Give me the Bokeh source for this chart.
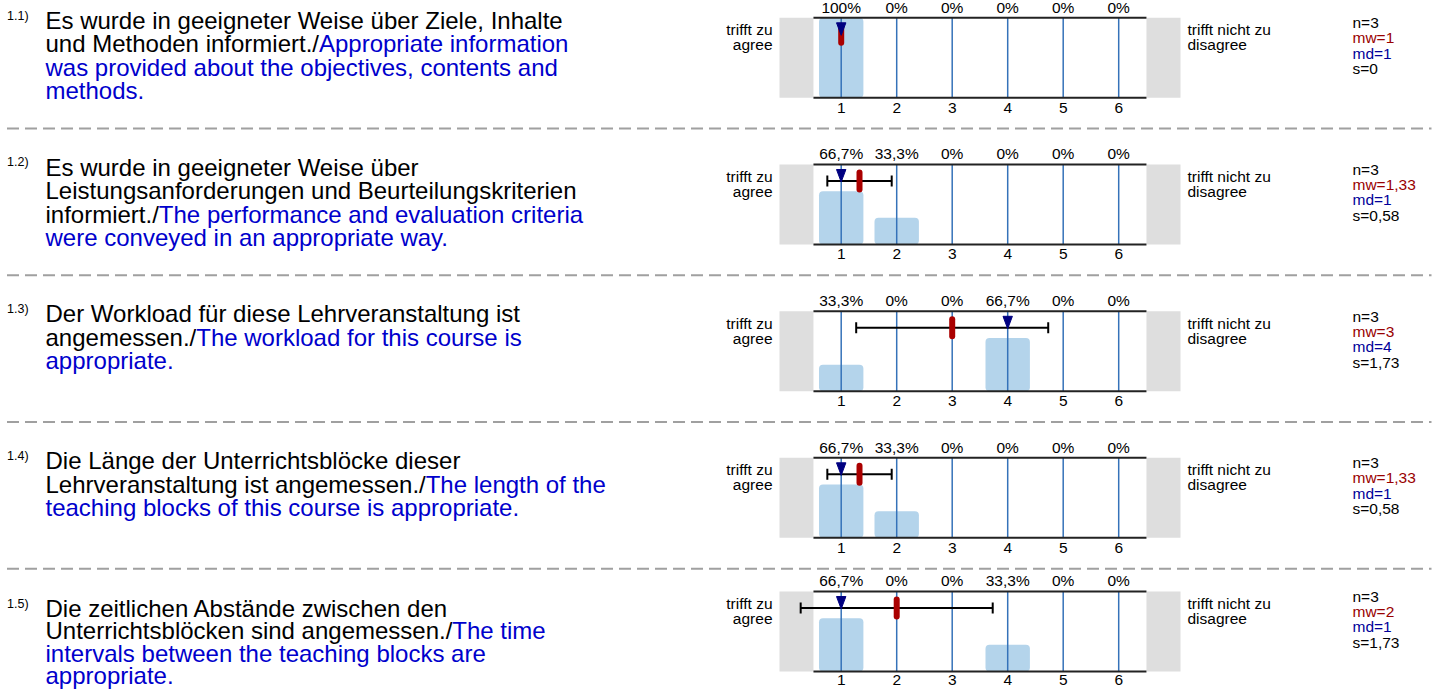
from bokeh.plotting import figure
from bokeh.layouts import column
from bokeh.models import Range1d
from bokeh.embed import file_html
from bokeh.resources import INLINE
from bokeh.core.properties import value

# ---------------- data ----------------
categories = [1, 2, 3, 4, 5, 6]
item_ids = ["1.1)", "1.2)", "1.3)", "1.4)", "1.5)"]

q_de = [
    ["Es wurde in geeigneter Weise über Ziele, Inhalte", "und Methoden informiert./"],
    ["Es wurde in geeigneter Weise über", "Leistungsanforderungen und Beurteilungskriterien", "informiert./"],
    ["Der Workload für diese Lehrveranstaltung ist", "angemessen./"],
    ["Die Länge der Unterrichtsblöcke dieser", "Lehrveranstaltung ist angemessen./"],
    ["Die zeitlichen Abstände zwischen den", "Unterrichtsblöcken sind angemessen./"],
]
q_en = [
    ["Appropriate information", "was provided about the objectives, contents and", "methods."],
    ["The performance and evaluation criteria", "were conveyed in an appropriate way."],
    ["The workload for this course is", "appropriate."],
    ["The length of the", "teaching blocks of this course is appropriate."],
    ["The time", "intervals between the teaching blocks are", "appropriate."],
]

pct_q1 = [100, 0, 0, 0, 0, 0]
pct_q2 = [66.7, 33.3, 0, 0, 0, 0]
pct_q3 = [33.3, 0, 0, 66.7, 0, 0]
pct_q4 = [66.7, 33.3, 0, 0, 0, 0]
pct_q5 = [66.7, 0, 0, 33.3, 0, 0]
percentages = [pct_q1, pct_q2, pct_q3, pct_q4, pct_q5]

n_vals = [3, 3, 3, 3, 3]
mw_vals = [1, 1.33, 3, 1.33, 2]
md_vals = [1, 1, 4, 1, 1]
s_vals = [0, 0.58, 1.73, 0.58, 1.73]

left_pole = ["trifft zu", "agree"]
right_pole = ["trifft nicht zu", "disagree"]

# ---------------- style / layout ----------------
FONT = value("Liberation Sans")
BLUE_TXT = "#0000cc"
MW_COL = "#990000"
MD_COL = "#000099"
BAR_COL = "#b4d4eb"
VLINE_COL = "#3572b9"
GREY_BOX = "#dedede"
FRAME_COL = "#222222"
SEP_COL = "#a0a0a0"
MEAN_COL = "#aa0000"
MED_COL = "#000080"

W = 1434
PX_PER_UNIT = 55.5
X1_PX = 840.7          # page x of first category
FIG_BOUNDS = [0, 133, 280, 426, 572, 690]
TOP_LINE = [17.3, 164.0, 310.8, 457.3, 591.0]
TICK_GAP = [15, 15, 15, 15, 14]
FRAME_H = 80.0
TEXT_BASE0 = [27.8, 174.5, 321.3, 468.0, 616.0]
TEXT_PITCH = [23.5, 23.5, 23.5, 23.5, 22.3]
SEP_Y = [128.0, 274.7, 421.5, 568.2, None]
BASE_SHIFT = 0.33   # em correction for the rendered alphabetic baseline

AFM = {' ': 278, '.': 278, ',': 278, '/': 278, '(': 333, ')': 333, '%': 889, '=': 584}
for c, w in zip("abcdefghijklmnopqrstuvwxyz",
                [556, 556, 500, 556, 556, 278, 556, 556, 222, 222, 500, 222, 833, 556, 556, 556, 556, 333, 500, 278, 556, 500, 722, 500, 500, 500]):
    AFM[c] = w
for c, w in zip("ABCDEFGHIJKLMNOPQRSTUVWXYZ",
                [667, 667, 722, 722, 667, 611, 778, 722, 278, 500, 667, 556, 833, 722, 778, 667, 778, 722, 667, 611, 722, 667, 944, 667, 667, 611]):
    AFM[c] = w
AFM.update({'ä': 556, 'ö': 556, 'ü': 556, 'Ä': 667, 'Ö': 778, 'Ü': 722})


def text_width(s, size):
    return sum(AFM.get(c, 556) for c in s) * size / 1000.0


def xd(px):
    return categories[0] + (px - X1_PX) / PX_PER_UNIT


def fmt(v):
    return f"{v:g}".replace(".", ",")


figs = []
for i in range(5):
    f_top, f_bot = FIG_BOUNDS[i], FIG_BOUNDS[i + 1]
    h = f_bot - f_top
    T = TOP_LINE[i]
    B = T + FRAME_H

    def yd(py, B=B):
        return 100.0 * (B - py) / FRAME_H

    def ty(base_px, size, B=B):
        return 100.0 * (B - (base_px - BASE_SHIFT * size)) / FRAME_H

    p = figure(width=W, height=h, x_range=Range1d(xd(0), xd(W)),
               y_range=Range1d(yd(f_bot), yd(f_top)),
               x_axis_type=None, y_axis_type=None,
               output_backend="svg", toolbar_location=None, min_border=0,
               outline_line_color=None, background_fill_color="white",
               border_fill_color="white")
    p.grid.visible = False

    lo, hi = categories[0] - 0.5, categories[-1] + 0.5
    # grey side boxes
    p.quad(left=[xd(779), hi], right=[lo, xd(1180)], top=100, bottom=0,
           fill_color=GREY_BOX, line_color=None)
    # bars
    p.vbar(x=categories, top=percentages[i], bottom=0, width=0.8,
           fill_color=BAR_COL, line_color=None, border_radius=4)
    # vertical category lines
    p.segment(x0=categories, y0=0, x1=categories, y1=100,
              line_color=VLINE_COL, line_width=1.5)
    # frame lines top/bottom
    p.segment(x0=[lo, lo], y0=[0, 100], x1=[hi, hi], y1=[0, 100],
              line_color=FRAME_COL, line_width=2)

    mw, md, s = mw_vals[i], md_vals[i], s_vals[i]
    ey = yd(T + 16.5)
    if s > 0:
        p.segment(x0=[mw - s], y0=[ey], x1=[mw + s], y1=[ey], line_color="black", line_width=2)
        p.segment(x0=[mw - s, mw + s], y0=[yd(T + 11)] * 2, x1=[mw - s, mw + s],
                  y1=[yd(T + 22)] * 2, line_color="black", line_width=2)
    # mean marker
    p.segment(x0=[mw], y0=[yd(T + 8)], x1=[mw], y1=[yd(T + 25)],
              line_color=MEAN_COL, line_width=6, line_cap="round")
    # median triangle
    hw = 4.7 / PX_PER_UNIT
    p.patch(x=[md - hw, md + hw, md], y=[yd(T + 5), yd(T + 5), yd(T + 17.5)],
            fill_color=MED_COL, line_color=MED_COL, line_width=1)

    # percentage labels (top) and category labels (bottom)
    fs = 15.5
    p.text(x=categories, y=[ty(T - 5.5, fs)] * 6, text=[fmt(v) + "%" for v in percentages[i]],
           text_font=FONT, text_font_size=value(f"{fs}px"), text_color="black",
           text_align="center", text_baseline="alphabetic")
    p.text(x=categories, y=[ty(B + TICK_GAP[i], fs)] * 6, text=[str(c) for c in categories],
           text_font=FONT, text_font_size=value(f"{fs}px"), text_color="black",
           text_align="center", text_baseline="alphabetic")

    # pole labels
    p.text(x=[xd(772)] * 2, y=[ty(T + 17, fs), ty(T + 32, fs)], text=left_pole,
           text_font=FONT, text_font_size=value(f"{fs}px"), text_color="black",
           text_align="right", text_baseline="alphabetic")
    p.text(x=[xd(1187)] * 2, y=[ty(T + 17, fs), ty(T + 32, fs)], text=right_pole,
           text_font=FONT, text_font_size=value(f"{fs}px"), text_color="black",
           text_align="left", text_baseline="alphabetic")

    # statistics
    stats = [f"n={n_vals[i]}", f"mw={fmt(mw)}", f"md={fmt(md)}", f"s={fmt(s)}"]
    cols = ["black", MW_COL, MD_COL, "black"]
    p.text(x=[xd(1352)] * 4,
           y=[ty(T + 10, fs), ty(T + 25.3, fs), ty(T + 40.6, fs), ty(T + 55.9, fs)],
           text=stats, text_color=cols, text_font=FONT, text_font_size=value(f"{fs}px"),
           text_align="left", text_baseline="alphabetic")

    # question id
    p.text(x=[xd(6.5)], y=[ty(TEXT_BASE0[i] - 8.5, 12.5)], text=[item_ids[i]],
           text_font=FONT, text_font_size=value("12.5px"), text_color="black",
           text_align="left", text_baseline="alphabetic")

    # question text (German black, English blue)
    x0 = 45.0
    de, en = q_de[i], q_en[i]
    lines = []
    for ln in de:
        lines.append([(ln, "black")])
    lines[-1].append((en[0], BLUE_TXT))
    for ln in en[1:]:
        lines.append([(ln, BLUE_TXT)])
    for k, segs in enumerate(lines):
        by = TEXT_BASE0[i] + k * TEXT_PITCH[i]
        cx = x0
        for txt, col in segs:
            p.text(x=[xd(cx)], y=[ty(by, 24)], text=[txt], text_font=FONT,
                   text_font_size=value("24px"), text_color=col,
                   text_align="left", text_baseline="alphabetic")
            cx += text_width(txt, 24)

    if SEP_Y[i] is not None:
        p.segment(x0=[xd(6.5)], y0=[yd(SEP_Y[i])], x1=[xd(1431)], y1=[yd(SEP_Y[i])],
                  line_color=SEP_COL, line_width=2, line_dash="12 6")
    figs.append(p)

layout = column(*figs, spacing=0)
open("out.html", "w").write(file_html(layout, INLINE))
